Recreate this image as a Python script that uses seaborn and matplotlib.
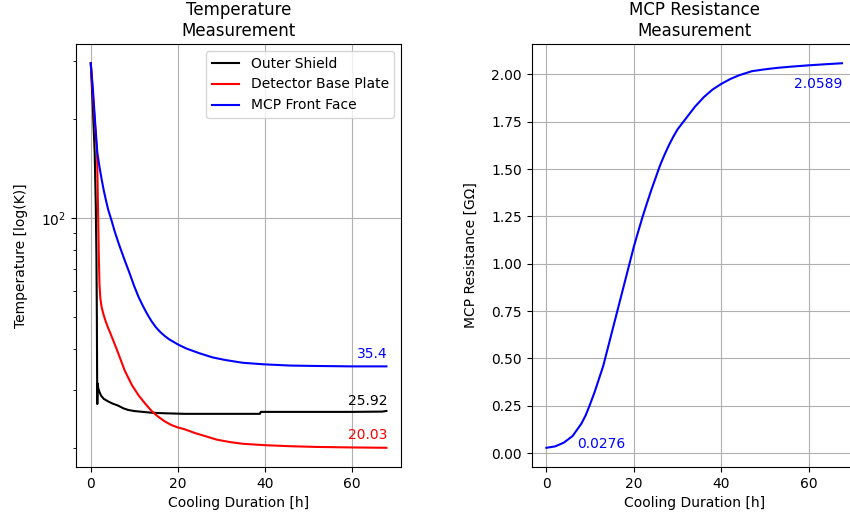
import matplotlib
matplotlib.use("Agg")
import matplotlib.pyplot as plt
import seaborn as sns

# Temperature readings (hours, kelvin)
shield_t = [0, 0.45, 0.9, 1.15, 1.3, 1.4, 1.45, 1.5, 1.58, 1.75, 2.0, 2.4, 3, 4, 5, 6.3, 7.5, 8.6, 10, 12, 14, 17,
            21.6, 30, 38.9, 39.1, 50, 60, 67, 68]
shield_T = [295, 220, 158, 110, 77, 50, 35, 27.2, 31.4, 30.3, 29.6, 28.8, 28.2, 27.7, 27.3, 26.9, 26.4, 26.1, 25.9,
            25.75, 25.6, 25.5, 25.4, 25.4, 25.4, 25.75, 25.75, 25.75, 25.8, 25.92]

plate_t = [0, 0.7, 1.45, 1.65, 1.85, 2.0, 2.2, 2.5, 3.0, 3.5, 4.0, 4.4, 5.0, 6.0, 7.8, 9.5, 11, 12.5, 14, 15.5, 17,
           18.5, 20, 21.6, 24, 26.5, 29, 32, 35, 40, 46, 52, 60, 68]
plate_T = [295, 215, 158, 110, 77, 63, 57, 53.5, 50.5, 48.2, 46.3, 45, 43, 39.8, 34.4, 31.0, 28.9, 27.3, 25.9, 24.9,
           24.1, 23.5, 23.1, 22.8, 22.2, 21.7, 21.2, 20.85, 20.6, 20.4, 20.25, 20.15, 20.08, 20.03]

face_t = [0, 0.5, 1.0, 1.5, 2, 2.5, 3, 3.5, 4, 4.8, 5.5, 6.5, 7.7, 9, 10, 11, 12, 13, 14, 15, 16, 17, 18, 20, 22,
          25, 28, 31, 35, 40, 46, 52, 60, 68]
face_T = [295, 245, 195, 158, 143, 131, 121, 113, 106, 98, 91, 83, 75, 67.5, 62, 57.5, 54, 51, 48.5, 46.5, 45,
          43.8, 42.8, 41.3, 40.1, 38.8, 37.7, 37.0, 36.3, 35.9, 35.6, 35.5, 35.4, 35.4]

# MCP resistance (hours, GOhm)
res_t = [0, 2, 4, 6, 8, 9, 10, 11, 12, 13, 14, 15, 16, 17, 18, 19, 20, 21, 22, 23, 24, 25, 26, 27, 28, 29, 30, 32,
         34, 36, 38, 40, 42, 44, 47, 50, 53, 56, 60, 64, 67.6]
res_R = [0.0276, 0.035, 0.055, 0.09, 0.155, 0.2, 0.258, 0.32, 0.39, 0.46, 0.55, 0.64, 0.73, 0.82, 0.91, 1.0, 1.09,
         1.17, 1.248, 1.32, 1.39, 1.455, 1.52, 1.575, 1.625, 1.67, 1.71, 1.77, 1.83, 1.88, 1.92, 1.95, 1.975, 1.995,
         2.017, 2.027, 2.035, 2.041, 2.048, 2.054, 2.0589]

fig, (ax1, ax2) = plt.subplots(1, 2, figsize=(8.5, 5.21), dpi=100)
fig.subplots_adjust(left=0.0894, right=1.008, top=0.9155, bottom=0.1036, wspace=0.401)

# Left panel: temperatures on log scale
sns.lineplot(x=shield_t, y=shield_T, color="black", label="Outer Shield", ax=ax1, linewidth=1.5)
sns.lineplot(x=plate_t, y=plate_T, color="red", label="Detector Base Plate", ax=ax1, linewidth=1.5)
sns.lineplot(x=face_t, y=face_T, color="blue", label="MCP Front Face", ax=ax1, linewidth=1.5)
ax1.set_yscale("log")
ax1.grid(True, color="#b0b0b0", linewidth=0.8)
ax1.set_title("Temperature\nMeasurement")
ax1.set_xlabel("Cooling Duration [h]")
ax1.set_ylabel("Temperature [log(K)]", labelpad=9.5)
ax1.legend(loc="upper right")

ax1.text(68.3, face_T[-1] * 1.06, "35.4", color="blue", ha="right")
ax1.text(68.3, shield_T[-1] * 1.045, "25.92", color="black", ha="right")
ax1.text(68.3, plate_T[-1] * 1.06, "20.03", color="red", ha="right")

# Right panel: MCP resistance
sns.lineplot(x=res_t, y=res_R, color="blue", ax=ax2, linewidth=1.5)
ax2.grid(True, color="#b0b0b0", linewidth=0.8)
ax2.set_title("MCP Resistance\nMeasurement")
ax2.set_xlabel("Cooling Duration [h]")
ax2.set_ylabel("MCP Resistance [G\u03a9]", labelpad=9.5)
ax2.text(7, res_R[0], "0.0276", color="blue")
ax2.text(res_t[-1], 1.926, "2.0589", color="blue", ha="right")

plt.savefig("out.png", dpi=100)
plt.close()
